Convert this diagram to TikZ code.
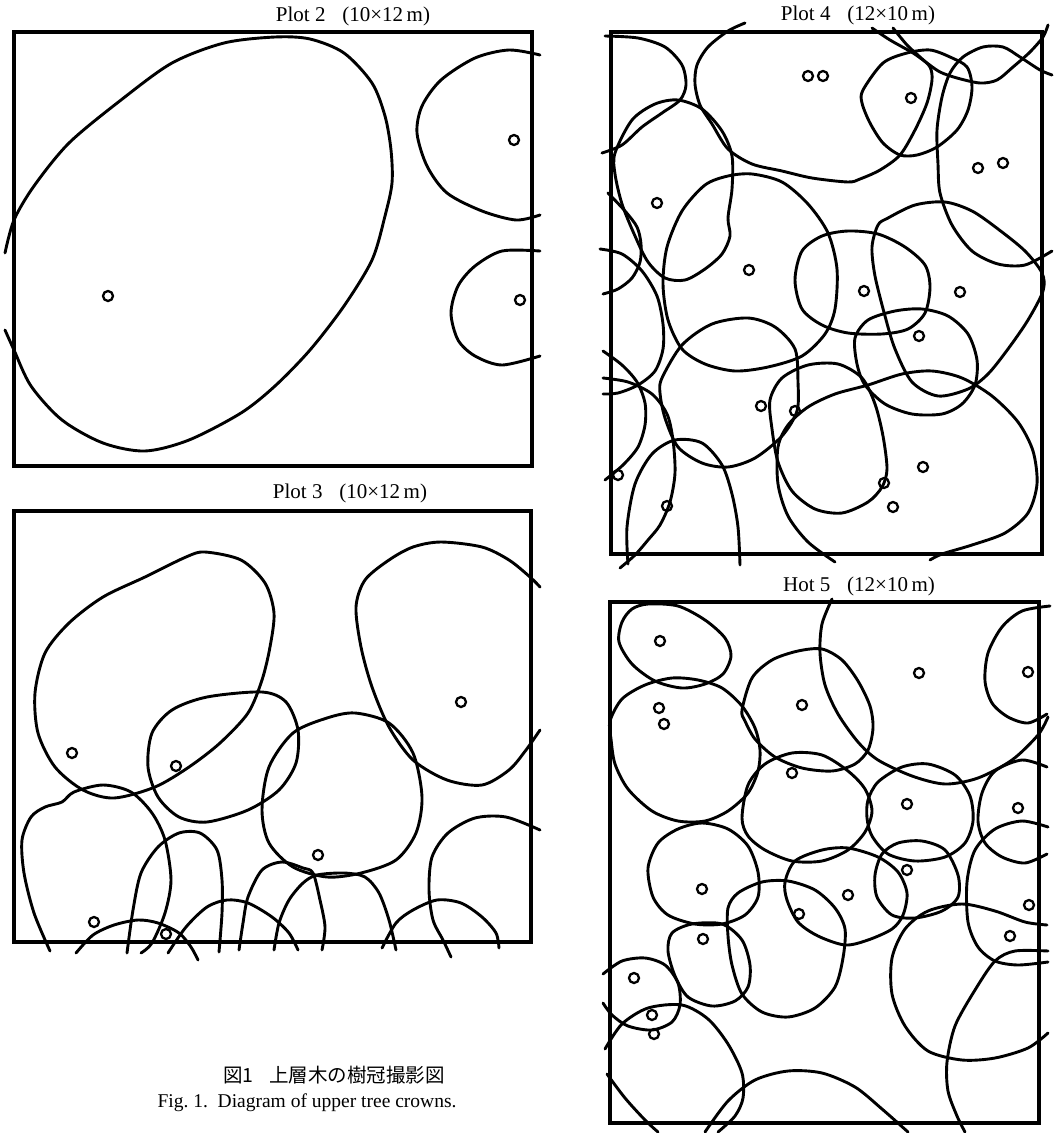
\documentclass[tikz,border=0pt]{standalone}
\usepackage{fontspec}
\setmainfont{Liberation Serif}
\newfontfamily\cjk{Noto Sans CJK JP}

\tikzset{
  crown/.style={line width=2.9pt,line cap=round,line join=round},
  frame/.style={line width=3.4pt,line join=miter},
  stem/.style={line width=2.3pt},
  plottitle/.style={font=\fontsize{21}{23}\selectfont,inner sep=0pt},
  capline/.style={font=\fontsize{19.5}{22}\selectfont,inner sep=0pt}
}

\begin{document}
\begin{tikzpicture}[x=1pt,y=-1pt]
 \useasboundingbox (0,0) rectangle (1055,1133);

 % Plot 2
 \node[plottitle] (t2) at (353,16) {Plot 2\hspace{0.8em}(10×12\,m)};
 \draw[frame] (14,32) rectangle (532,466);
 \draw[crown] plot[smooth] coordinates {(5,330) (14,350) (31,386) (62,420) (103,443) (145,451) (189,440) (241,413) (275,386) (310,350) (344,306) (372,260) (385,216) (392,183) (391,150) (385,116) (372,83) (344,53) (310,39) (275,37) (224,43) (172,63) (121,100) (69,143) (34,186) (14,220) (5,253)};
 \draw[crown] plot[smooth] coordinates {(540,55) (509,50) (475,58) (441,80) (422,106) (417,133) (427,166) (447,193) (482,211) (516,220) (540,215)};
 \draw[crown] plot[smooth] coordinates {(540,251) (502,251) (475,266) (458,286) (451,313) (458,340) (475,356) (502,365) (540,356)};
 \foreach \p in {(108,296),(514,140),(520,300)}
   \draw[stem] \p circle (5pt);

 % Plot 3
 \node[plottitle] (t3) at (350,493) {Plot 3\hspace{0.8em}(10×12\,m)};
 \draw[frame] (14,511) rectangle (531,942);
 \draw[crown] plot[smooth cycle] coordinates {(205,552) (241,560) (265,583) (274,613) (270,647) (262,680) (248,713) (220,743) (189,767) (155,787) (114,798) (83,790) (55,767) (38,733) (35,693) (45,653) (69,623) (103,597) (145,577) (186,557)};
 \draw[crown] plot[smooth cycle] coordinates {(262,692) (286,702) (298,730) (296,763) (279,790) (248,810) (207,822) (179,817) (158,797) (148,767) (152,733) (172,710) (207,697)};
 \draw[crown] plot[smooth] coordinates {(540,730) (526,750) (509,770) (482,785) (447,780) (413,760) (389,727) (372,687) (361,647) (356,607) (365,580) (389,560) (413,547) (441,542) (482,547) (509,560) (530,577) (540,587)};
 \draw[crown] plot[smooth cycle] coordinates {(355,713) (389,723) (413,753) (422,797) (416,833) (396,860) (361,873) (327,877) (293,867) (269,843) (262,810) (269,767) (293,733) (327,718)};
 \draw[crown] plot[smooth] coordinates {(50,951) (34,913) (24,873) (22,840) (31,817) (45,807) (62,802) (74,792) (103,785) (131,792) (152,813) (165,840) (171,880) (165,913) (152,943) (141,953)};
 \draw[crown] plot[smooth] coordinates {(127,953) (133,910) (141,873) (158,847) (179,833) (200,833) (217,850) (222,880) (222,913) (219,952)};
 \draw[crown] plot[smooth] coordinates {(239,950) (243,923) (248,897) (262,870) (282,862) (303,868) (313,873) (320,900) (325,927) (322,950)};
 \draw[crown] plot[smooth] coordinates {(274,950) (279,923) (289,900) (303,883) (317,875) (344,873) (365,877) (379,893) (389,920) (396,950)};
 \draw[crown] plot[smooth] coordinates {(76,953) (93,935) (114,925) (138,920) (158,923) (179,933) (191,947) (198,960)};
 \draw[crown] plot[smooth] coordinates {(168,953) (186,927) (207,907) (227,900) (248,903) (272,917) (289,933) (298,950)};
 \draw[crown] plot[smooth] coordinates {(540,830) (506,817) (475,818) (448,833) (432,857) (429,890) (433,920) (443,940) (451,957)};
 \draw[crown] plot[smooth] coordinates {(382,948) (396,923) (413,910) (437,900) (461,903) (482,917) (496,933) (499,948)};
 \foreach \p in {(72,753),(176,766),(461,702),(318,855),(94,922),(166,934)}
   \draw[stem] \p circle (5pt);

 % Plot 4
 \node[plottitle] (t4) at (858,15) {Plot 4\hspace{0.8em}(12×10\,m)};
 \draw[frame] (611,32) rectangle (1042,554);
 \draw[crown] plot[smooth] coordinates {(605,36) (638,38) (665,47) (682,65) (686,85) (680,100) (662,113) (642,127) (622,145) (602,153)};
 \draw[crown] plot[smooth] coordinates {(745,23) (728,31) (708,47) (697,65) (695,84) (700,105) (712,124) (728,149) (752,164) (782,171) (812,178) (848,182) (860,179) (880,170) (900,155) (915,130) (927,103) (932,80) (930,67) (920,57) (907,45) (893,28)};
 \draw[crown] plot[smooth] coordinates {(872,28) (890,40) (913,53) (927,63) (940,72) (957,78) (980,83) (997,80) (1013,67) (1030,52) (1043,37) (1048,25)};
 \draw[crown] plot[smooth cycle] coordinates {(863,90) (883,63) (907,53) (930,50) (950,57) (967,67) (972,87) (968,110) (957,130) (937,147) (917,155) (900,155) (883,143) (870,123) (862,103)};
 \draw[crown] plot[smooth] coordinates {(1052,75) (1040,70) (1020,57) (1003,47) (983,47) (963,57) (950,73) (942,97) (937,130) (938,164) (940,193) (952,225) (972,251) (998,264) (1025,265) (1052,251)};
 \draw[crown] plot[smooth cycle] coordinates {(752,174) (782,182) (808,204) (828,233) (837,269) (835,309) (825,334) (802,356) (768,367) (735,371) (705,364) (682,349) (668,320) (663,284) (667,247) (682,211) (705,185) (728,176)};
 \draw[crown] plot[smooth cycle] coordinates {(795,280) (802,251) (822,236) (848,231) (878,234) (905,247) (925,265) (930,287) (925,313) (908,329) (882,334) (848,333) (822,325) (802,309)};
 \draw[crown] plot[smooth cycle] coordinates {(888,218) (915,205) (945,202) (972,211) (998,229) (1025,251) (1042,273) (1043,291) (1028,320) (1008,349) (988,374) (968,389) (938,396) (912,382) (895,349) (885,316) (875,276) (872,247) (878,225)};
 \draw[crown] plot[smooth cycle] coordinates {(855,338) (868,320) (895,311) (922,309) (948,316) (968,334) (977,360) (975,385) (962,404) (942,414) (912,414) (885,404) (865,385) (857,364)};
 \draw[crown] plot[smooth] coordinates {(835,562) (808,542) (788,516) (778,484) (778,447) (788,425) (808,407) (835,394) (868,385) (902,374) (932,371) (962,378) (992,396) (1018,422) (1033,451) (1037,484) (1028,513) (1005,533) (972,545) (942,554) (930,560)};
 \draw[crown] plot[smooth cycle] coordinates {(662,378) (682,345) (712,324) (748,318) (775,327) (795,349) (798,382) (797,411) (782,436) (755,458) (728,467) (702,463) (678,447) (665,418) (660,393)};
 \draw[crown] plot[smooth cycle] coordinates {(770,400) (782,378) (808,365) (838,364) (862,378) (875,404) (883,436) (887,469) (882,487) (868,502) (842,513) (815,509) (792,491) (778,462) (772,429)};
 \draw[crown] plot[smooth] coordinates {(608,193) (625,211) (637,227) (641,244) (640,262) (632,278) (618,289) (603,294)};
 \draw[crown] plot[smooth cycle] coordinates {(615,153) (632,120) (655,104) (678,100) (702,109) (722,131) (732,156) (732,189) (728,218) (730,236) (722,254) (705,269) (685,280) (665,278) (648,262) (635,236) (622,204) (615,174)};
 \draw[crown] plot[smooth] coordinates {(600,249) (622,254) (642,271) (657,296) (663,324) (663,349) (655,371) (638,385) (618,393) (603,394)};
 \draw[crown] plot[smooth] coordinates {(603,351) (622,365) (637,382) (645,403) (645,425) (638,447) (623,465) (605,480)};
 \draw[crown] plot[smooth] coordinates {(603,378) (628,382) (652,394) (667,414) (673,440) (675,473) (670,502) (660,525) (648,540) (635,555) (620,568)};
 \draw[crown] plot[smooth] coordinates {(628,564) (627,527) (635,484) (652,454) (675,440) (702,443) (722,465) (732,494) (738,527) (740,565)};
 \foreach \p in {(808,76),(823,76),(911,98),(978,168),(1003,163),(657,203),(749,270),(864,291),(960,292),(919,336),(761,406),(795,411),(618,475),(667,506),(923,467),(884,483),(893,507)}
   \draw[stem] \p circle (5pt);

 % Plot 5
 \node[plottitle] (t5) at (859,586) {Hot 5\hspace{0.8em}(12×10\,m)};
 \draw[frame] (610,602) rectangle (1039,1123);
 \draw[crown] plot[smooth cycle] coordinates {(632,609) (648,604) (678,606) (705,620) (725,638) (731,656) (723,674) (705,684) (682,688) (655,681) (632,664) (619,642) (622,622)};
 \draw[crown] plot[smooth cycle] coordinates {(610,721) (622,699) (645,685) (672,678) (698,680) (722,688) (742,706) (755,728) (760,750) (758,771) (748,793) (728,811) (705,821) (678,821) (652,811) (628,789) (615,764) (611,739)};
 \draw[crown] plot[smooth cycle] coordinates {(742,710) (752,678) (772,660) (798,651) (822,649) (842,660) (858,681) (870,706) (873,728) (868,750) (855,764) (832,771) (802,768) (775,757) (755,739) (745,721)};
 \draw[crown] plot[smooth] coordinates {(832,599) (822,624) (820,653) (825,685) (838,714) (858,742) (878,760) (912,776) (945,784) (978,778) (1012,760) (1038,735) (1048,717)};
 \draw[crown] plot[smooth] coordinates {(1050,606) (1022,611) (1002,627) (988,653) (985,681) (992,703) (1008,717) (1028,723) (1047,714)};
 \draw[crown] plot[smooth cycle] coordinates {(868,800) (878,782) (902,767) (928,764) (955,775) (970,796) (973,821) (965,843) (945,857) (915,861) (888,854) (872,836) (867,818)};
 \draw[crown] plot[smooth cycle] coordinates {(648,868) (658,843) (678,829) (702,823) (728,829) (748,846) (758,872) (758,897) (745,915) (722,924) (695,924) (668,915) (653,897)};
 \draw[crown] plot[smooth cycle] coordinates {(742,818) (748,785) (765,764) (792,753) (822,755) (848,771) (865,789) (872,811) (865,832) (848,850) (822,861) (792,861) (765,850) (748,836)};
 \draw[crown] plot[smooth cycle] coordinates {(785,882) (795,861) (822,850) (848,848) (878,857) (898,872) (907,893) (903,915) (892,929) (868,940) (845,945) (818,936) (798,922) (787,900)};
 \draw[crown] plot[smooth cycle] coordinates {(875,875) (882,854) (898,843) (922,841) (945,850) (958,875) (958,897) (942,911) (915,918) (892,915) (877,897)};
 \draw[crown] plot[smooth cycle] coordinates {(728,908) (738,893) (762,882) (788,881) (815,890) (835,908) (845,929) (843,958) (835,987) (815,1008) (788,1017) (762,1012) (742,994) (732,965) (728,936)};
 \draw[crown] plot[smooth cycle] coordinates {(668,951) (672,933) (692,924) (722,924) (742,940) (750,965) (748,987) (735,1001) (712,1006) (688,997) (675,976)};
 \draw[crown] plot[smooth] coordinates {(603,974) (622,961) (645,958) (665,965) (678,983) (680,1005) (672,1022) (652,1030) (628,1026) (612,1015) (603,1003)};
 \draw[crown] plot[smooth] coordinates {(605,1049) (622,1024) (648,1008) (682,1005) (708,1019) (728,1044) (742,1073) (743,1098) (735,1116) (718,1132)};
 \draw[crown] plot[smooth] coordinates {(607,1074) (625,1098) (645,1120) (658,1132)};
 \draw[crown] plot[smooth] coordinates {(705,1132) (728,1101) (755,1080) (788,1071) (822,1073) (855,1087) (882,1109) (908,1132)};
 \draw[crown] plot[smooth] coordinates {(1048,1033) (1028,1048) (995,1058) (962,1060) (928,1051) (905,1026) (892,994) (892,958) (905,929) (928,911) (962,904) (995,911) (1025,922) (1047,925)};
 \draw[crown] plot[smooth] coordinates {(1047,767) (1022,760) (995,771) (982,793) (978,821) (985,843) (1002,857) (1025,863) (1047,854)};
 \draw[crown] plot[smooth] coordinates {(1048,827) (1022,821) (995,829) (975,850) (967,882) (968,922) (978,947) (995,961) (1018,965) (1048,962)};
 \draw[crown] plot[smooth] coordinates {(1048,951) (1015,951) (995,961) (975,990) (955,1026) (947,1062) (948,1091) (957,1116) (965,1132)};
 \foreach \p in {(660,641),(919,673),(1028,672),(659,708),(664,724),(802,705),(792,773),(907,804),(1018,808),(907,870),(702,889),(848,895),(799,914),(1029,905),(703,939),(1010,936),(634,978),(652,1015),(654,1034)}
   \draw[stem] \p circle (5pt);

 % caption
 \node[capline] (capjp) at (334,1075) {\cjk 図1\hspace{0.8em}上層木の樹冠撮影図};
 \node[capline] (capen) at (307,1103) {Fig.\ 1.\ \ Diagram\ of\ upper\ tree\ crowns.};
\end{tikzpicture}
\end{document}
